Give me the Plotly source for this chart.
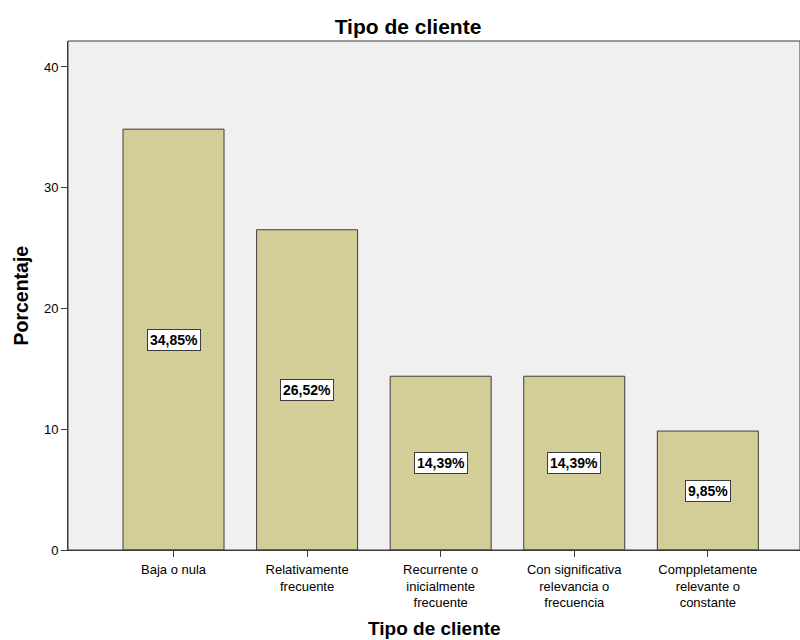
import plotly.graph_objects as go

categories = [
    "Baja o nula",
    "Relativamente<br>frecuente",
    "Recurrente o<br>inicialmente<br>frecuente",
    "Con significativa<br>relevancia o<br>frecuencia",
    "Comppletamente<br>relevante o<br>constante",
]
percentages = [34.85, 26.52, 14.39, 14.39, 9.85]
value_labels = ["34,85%", "26,52%", "14,39%", "14,39%", "9,85%"]
y_ticks = [0, 10, 20, 30, 40]

FONT = "Liberation Sans, Arial, sans-serif"
AXIS_COLOR = "#3c3c3c"
x_pos = list(range(len(categories)))

fig = go.Figure()
fig.add_trace(go.Bar(
    x=x_pos,
    y=percentages,
    width=0.756,
    marker=dict(color="#d3ce97", line=dict(color=AXIS_COLOR, width=1)),
    hoverinfo="skip",
))

# value boxes placed at mid-height of each bar
for xi, v, lab in zip(x_pos, percentages, value_labels):
    fig.add_annotation(
        x=xi, y=v / 2, text=f"<b>{lab}</b>", showarrow=False,
        font=dict(family=FONT, size=14, color="black"),
        bgcolor="white", bordercolor=AXIS_COLOR, borderwidth=1, borderpad=2,
    )

# axis titles
fig.add_annotation(
    x=0.5, xref="paper", y=0, yref="paper", yshift=-78,
    text="<b>Tipo de cliente</b>", showarrow=False,
    xanchor="center", yanchor="middle",
    font=dict(family=FONT, size=19, color="black"),
)
fig.add_annotation(
    x=0, xref="paper", xshift=-48, y=0.5, yref="paper",
    text="<b>Porcentaje</b>", showarrow=False, textangle=-90,
    xanchor="center", yanchor="middle",
    font=dict(family=FONT, size=19.5, color="black"),
)

fig.update_layout(
    width=800, height=640,
    margin=dict(l=68, r=0, t=41, b=90),
    paper_bgcolor="white",
    plot_bgcolor="#f0f0f0",
    showlegend=False,
    font=dict(family=FONT, size=13, color="black"),
    title=dict(
        text="<b>Tipo de cliente</b>", x=0.51, xanchor="center",
        y=1 - 27 / 640, yanchor="middle",
        font=dict(family=FONT, size=21, color="black"),
    ),
    xaxis=dict(
        range=[-0.79, 4.69],
        tickmode="array", tickvals=x_pos, ticktext=categories,
        ticks="outside", ticklen=6, tickcolor=AXIS_COLOR,
        ticklabelstandoff=1,
        showline=True, linecolor=AXIS_COLOR, linewidth=1,
        showgrid=False, zeroline=False,
        tickfont=dict(family=FONT, size=13),
    ),
    yaxis=dict(
        range=[0, 42.15],
        tickmode="array", tickvals=y_ticks,
        ticks="outside", ticklen=6, tickcolor=AXIS_COLOR,
        showline=True, linecolor=AXIS_COLOR, linewidth=1,
        showgrid=False, zeroline=False,
        tickfont=dict(family=FONT, size=13),
    ),
)

# frame around the plotting area
fig.add_shape(type="rect", xref="paper", yref="paper", x0=0, y0=0, x1=1, y1=1,
              line=dict(color=AXIS_COLOR, width=1), layer="above")

fig.write_html("out.html")
